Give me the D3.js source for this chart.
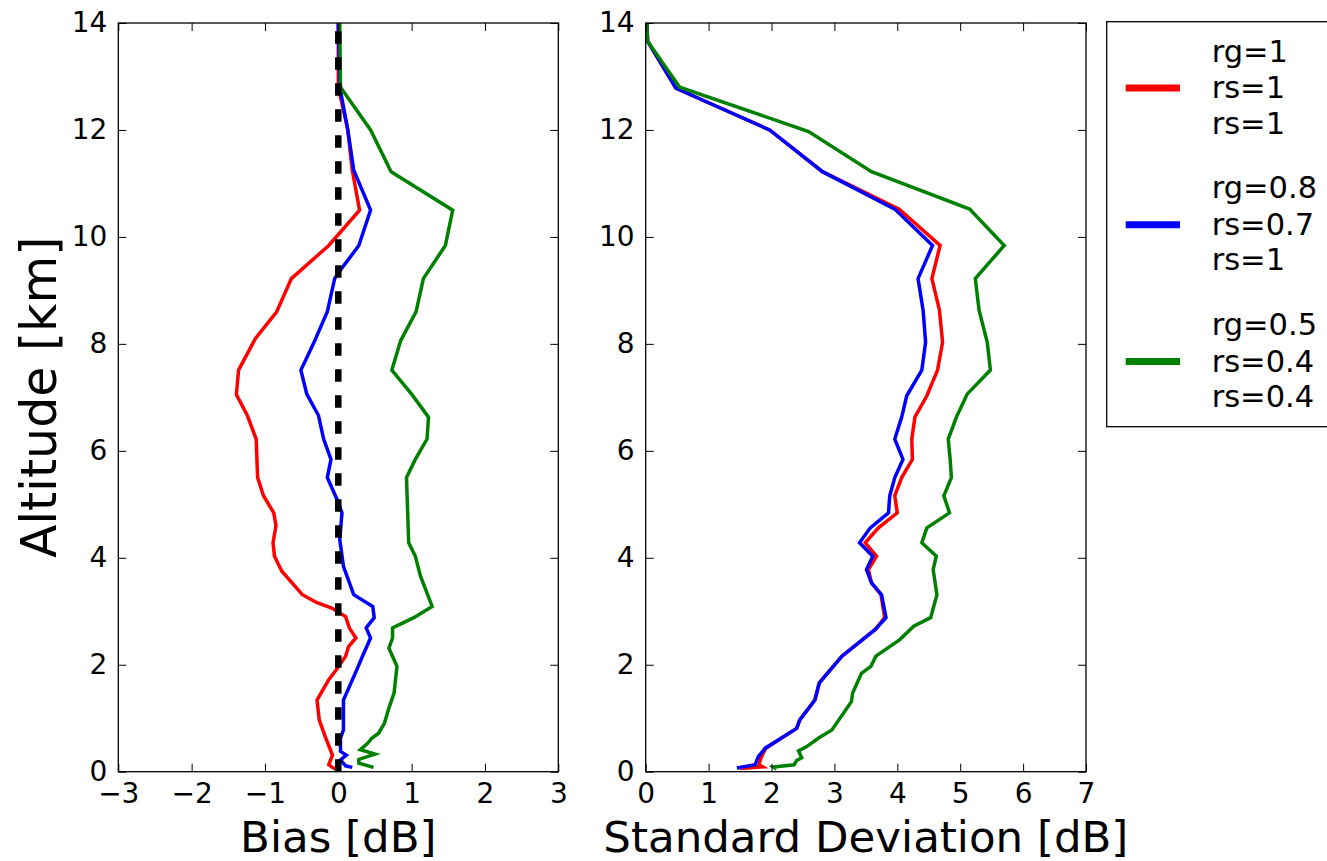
<!DOCTYPE html>
<html>
<head>
<meta charset="utf-8">
<script src="https://cdn.jsdelivr.net/npm/d3@7"></script>
<style>
  html, body { margin: 0; padding: 0; background: #fff; }
  svg { display: block; font-family: 'DejaVu Sans', sans-serif; }
  .axis line { stroke: #000; stroke-width: 1; }
</style>
</head>
<body>
<svg id="chart" width="1327" height="861"></svg>
<script>
// Altitude profiles of bias and standard deviation for three radar setups.
// Each series is a list of [altitude km, value dB].
var ALT_TICKS = [0, 2, 4, 6, 8, 10, 12, 14];
var BIAS_TICKS = [-3, -2, -1, 0, 1, 2, 3];
var SD_TICKS = [0, 1, 2, 3, 4, 5, 6, 7];

var biasRed = [[14,0.0],[12.8,0.0],[12.0,0.13],[11.25,0.19],[10.5,0.29],[9.84,-0.13],[9.22,-0.64],
  [8.6,-0.84],[8.1,-1.13],[7.51,-1.36],[7.05,-1.39],[6.66,-1.24],[6.22,-1.12],[5.5,-1.10],[5.16,-1.02],
  [4.84,-0.88],[4.6,-0.85],[4.28,-0.89],[4.03,-0.87],[3.75,-0.77],[3.31,-0.49],[3.16,-0.29],[3.06,-0.09],
  [2.9,0.10],[2.69,0.15],[2.5,0.24],[2.34,0.14],[2.16,0.10],[1.9,-0.03],[1.72,-0.13],[1.53,-0.21],
  [1.34,-0.29],[0.97,-0.26],[0.66,-0.18],[0.31,-0.08],[0.13,-0.13],[0.09,-0.09],[0.03,-0.02]];
var biasBlue = [[14,0.0],[12.8,0.02],[12.0,0.13],[11.25,0.21],[10.5,0.44],[9.84,0.28],[9.38,0.03],
  [9.22,-0.05],[8.6,-0.15],[8.0,-0.34],[7.51,-0.51],[7.06,-0.43],[6.66,-0.27],[6.22,-0.2],[5.84,-0.1],
  [5.5,-0.15],[5.1,-0.02],[4.84,0.05],[4.34,0.02],[3.84,0.07],[3.31,0.21],[3.09,0.47],[2.88,0.49],
  [2.69,0.38],[2.5,0.44],[2.16,0.33],[1.9,0.25],[1.34,0.07],[0.78,0.07],[0.63,0.03],[0.38,0.03],
  [0.31,0.11],[0.22,0.03],[0.11,0.10],[0.08,0.19]];
var biasGreen = [[14,0.02],[12.8,0.03],[12.0,0.44],[11.22,0.72],[10.5,1.56],[9.84,1.46],[9.22,1.16],
  [8.6,1.06],[8.06,0.85],[7.51,0.73],[7.06,1.0],[6.63,1.23],[6.22,1.21],[5.84,1.05],[5.5,0.93],
  [4.28,0.96],[4.03,1.05],[3.66,1.12],[3.09,1.28],[2.88,1.03],[2.69,0.74],[2.5,0.74],[2.31,0.69],
  [1.97,0.8],[1.47,0.76],[1.19,0.69],[0.91,0.63],[0.72,0.55],[0.63,0.46],[0.53,0.40],[0.41,0.30],
  [0.33,0.50],[0.23,0.28],[0.16,0.28],[0.08,0.48]];

var sdRed = [[14,0.02],[13.66,0.03],[12.78,0.48],[12.0,1.97],[11.22,2.81],[10.52,4.03],[9.84,4.68],
  [9.22,4.55],[8.63,4.67],[8.03,4.72],[7.51,4.64],[7.03,4.47],[6.63,4.28],[6.22,4.23],[5.84,4.24],
  [5.5,4.07],[5.16,3.96],[4.84,4.0],[4.56,3.70],[4.28,3.49],[4.03,3.67],[3.78,3.54],[3.53,3.59],
  [3.31,3.74],[2.88,3.80],[2.66,3.65],[2.16,3.12],[1.66,2.76],[1.34,2.69],[0.97,2.45],[0.81,2.40],
  [0.44,1.91],[0.28,1.84],[0.13,1.80],[0.09,1.86],[0.06,1.50]];
var sdBlue = [[14,0.02],[13.66,0.03],[12.78,0.48],[12.0,1.97],[11.22,2.81],[10.52,3.96],[9.84,4.56],
  [9.22,4.33],[8.63,4.41],[8.03,4.45],[7.51,4.39],[7.03,4.15],[6.63,4.07],[6.22,3.96],[5.84,4.09],
  [5.5,3.96],[5.16,3.88],[4.84,3.86],[4.56,3.57],[4.28,3.40],[4.03,3.61],[3.78,3.51],[3.53,3.59],
  [3.31,3.75],[2.88,3.82],[2.66,3.65],[2.16,3.12],[1.66,2.76],[1.34,2.69],[0.97,2.45],[0.81,2.40],
  [0.44,1.90],[0.28,1.79],[0.13,1.74],[0.07,1.45]];
var sdGreen = [[14,0.02],[13.66,0.03],[12.8,0.54],[11.97,2.59],[11.22,3.59],[10.52,5.15],[9.84,5.70],
  [9.22,5.24],[8.63,5.30],[8.03,5.43],[7.51,5.48],[7.06,5.11],[6.63,4.94],[6.22,4.81],[5.84,4.84],
  [5.5,4.86],[5.16,4.74],[4.84,4.83],[4.56,4.47],[4.28,4.39],[4.03,4.62],[3.78,4.57],[3.31,4.63],
  [2.88,4.53],[2.72,4.26],[2.47,4.04],[2.16,3.66],[1.97,3.58],[1.84,3.43],[1.47,3.29],[1.31,3.27],
  [0.78,2.96],[0.63,2.75],[0.47,2.56],[0.39,2.43],[0.26,2.48],[0.21,2.40],[0.13,2.36],[0.09,2.03],
  [0.05,2.08]];

var zeroLine = [[0,0],[14,0]];

var seriesColors = ['#ff0000', '#0000ff', '#008000'];
var legendLabels = [['rg=1', 'rs=1', 'rs=1'], ['rg=0.8', 'rs=0.7', 'rs=1'], ['rg=0.5', 'rs=0.4', 'rs=0.4']];

(function () {
    var svg = d3.select('#chart');
    var top = 23, bottom = 771.7;
    var y = d3.scaleLinear().domain([0, 14]).range([bottom, top]);
    var fmt = d3.format('d');

    var panels = [
        { id: 'bias', x0: 118.3, x1: 558.3, domain: [-3, 3], ticks: BIAS_TICKS,
          series: [biasRed, biasBlue, biasGreen], title: 'Bias [dB]', zero: true },
        { id: 'sd', x0: 645.7, x1: 1086, domain: [0, 7], ticks: SD_TICKS,
          series: [sdRed, sdBlue, sdGreen], title: 'Standard Deviation [dB]', zero: false }
    ];

    var defs = svg.append('defs');

    function styleAxis(g) {
        g.select('.domain').remove();
        g.attr('font-family', "'DejaVu Sans', sans-serif").attr('font-size', 28);
        g.selectAll('text').attr('fill', '#000');
    }

    panels.forEach(function (p) {
        var x = d3.scaleLinear().domain(p.domain).range([p.x0, p.x1]);
        var w = p.x1 - p.x0, h = bottom - top;

        defs.append('clipPath').attr('id', 'clip-' + p.id)
            .append('rect').attr('x', p.x0).attr('y', top).attr('width', w).attr('height', h);

        var g = svg.append('g');
        var plot = g.append('g').attr('clip-path', 'url(#clip-' + p.id + ')');

        var line = d3.line()
            .x(function (d) { return x(d[1]); })
            .y(function (d) { return y(d[0]); });

        p.series.forEach(function (s, i) {
            plot.append('path').datum(s)
                .attr('d', line)
                .attr('fill', 'none')
                .attr('stroke', seriesColors[i])
                .attr('stroke-width', 3.5)
                .attr('stroke-linejoin', 'miter');
        });

        if (p.zero) {
            plot.append('path').datum(zeroLine)
                .attr('d', line)
                .attr('fill', 'none')
                .attr('stroke', '#000')
                .attr('stroke-width', 6.5)
                .attr('stroke-dasharray', '12.5,13.5');
        }

        // ticks point inwards on all four sides, labels only bottom/left
        g.append('g').attr('class', 'axis')
            .attr('transform', 'translate(0,' + bottom + ')')
            .call(d3.axisBottom(x).tickValues(p.ticks).tickFormat(fmt).tickSize(-8).tickPadding(11.5))
            .call(styleAxis);
        g.append('g').attr('class', 'axis')
            .attr('transform', 'translate(0,' + top + ')')
            .call(d3.axisTop(x).tickValues(p.ticks).tickSize(-8).tickFormat(''))
            .call(styleAxis);
        g.append('g').attr('class', 'axis')
            .attr('transform', 'translate(' + p.x0 + ',0)')
            .call(d3.axisLeft(y).tickValues(ALT_TICKS).tickFormat(fmt).tickSize(-8).tickPadding(11))
            .call(styleAxis);
        g.append('g').attr('class', 'axis')
            .attr('transform', 'translate(' + p.x1 + ',0)')
            .call(d3.axisRight(y).tickValues(ALT_TICKS).tickSize(-8).tickFormat(''))
            .call(styleAxis);

        g.append('rect')
            .attr('x', p.x0).attr('y', top).attr('width', w).attr('height', h)
            .attr('fill', 'none').attr('stroke', '#000').attr('stroke-width', 1.3);

        g.append('text')
            .attr('x', (p.x0 + p.x1) / 2).attr('y', 851.5)
            .attr('text-anchor', 'middle')
            .attr('font-size', 43.5)
            .text(p.title);
    });

    svg.append('text')
        .attr('transform', 'translate(56,' + ((top + bottom) / 2) + ') rotate(-90)')
        .attr('text-anchor', 'middle')
        .attr('font-size', 49)
        .text('Altitude [km]');

    // legend box runs off the right edge like the original
    var lg = svg.append('g');
    lg.append('rect')
        .attr('x', 1106.7).attr('y', 21.7).attr('width', 300).attr('height', 405)
        .attr('fill', '#fff').attr('stroke', '#000').attr('stroke-width', 1.3);
    legendLabels.forEach(function (lines, i) {
        var ly = 88 + i * 136.8;
        lg.append('line')
            .attr('x1', 1125.7).attr('x2', 1180)
            .attr('y1', ly).attr('y2', ly)
            .attr('stroke', seriesColors[i]).attr('stroke-width', 7);
        [-26.5, 10, 45.5].forEach(function (dy, j) {
            lg.append('text')
                .attr('x', 1211.7).attr('y', ly + dy)
                .attr('font-size', 30.5)
                .text(lines[j]);
        });
    });
})();
</script>
</body>
</html>
